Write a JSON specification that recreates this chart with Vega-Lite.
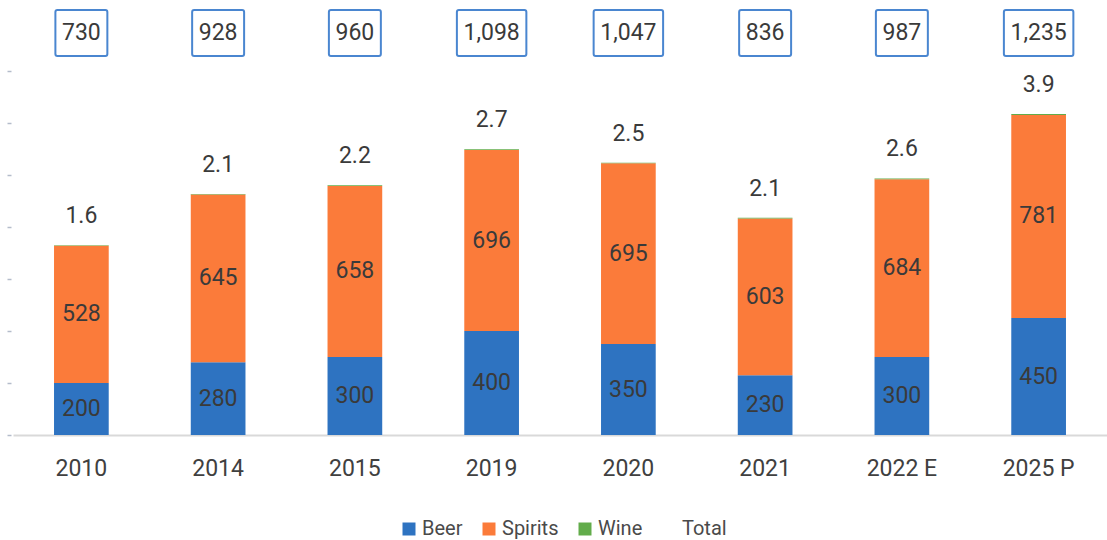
{
  "$schema": "https://vega.github.io/schema/vega-lite/v6.json",
  "width": 1094,
  "height": 429,
  "autosize": {"type": "none"},
  "padding": {"left": 13, "top": 6, "right": 0, "bottom": 105},
  "background": "white",
  "config": {
    "font": "Roboto",
    "view": {"stroke": null},
    "text": {"font": "Roboto"}
  },
  "datasets": {
    "segments": [
      {"year": "2010", "type": "Beer", "value": 200},
      {"year": "2010", "type": "Spirits", "value": 528},
      {"year": "2010", "type": "Wine", "value": 1.6},
      {"year": "2014", "type": "Beer", "value": 280},
      {"year": "2014", "type": "Spirits", "value": 645},
      {"year": "2014", "type": "Wine", "value": 2.1},
      {"year": "2015", "type": "Beer", "value": 300},
      {"year": "2015", "type": "Spirits", "value": 658},
      {"year": "2015", "type": "Wine", "value": 2.2},
      {"year": "2019", "type": "Beer", "value": 400},
      {"year": "2019", "type": "Spirits", "value": 696},
      {"year": "2019", "type": "Wine", "value": 2.7},
      {"year": "2020", "type": "Beer", "value": 350},
      {"year": "2020", "type": "Spirits", "value": 695},
      {"year": "2020", "type": "Wine", "value": 2.5},
      {"year": "2021", "type": "Beer", "value": 230},
      {"year": "2021", "type": "Spirits", "value": 603},
      {"year": "2021", "type": "Wine", "value": 2.1},
      {"year": "2022 E", "type": "Beer", "value": 300},
      {"year": "2022 E", "type": "Spirits", "value": 684},
      {"year": "2022 E", "type": "Wine", "value": 2.6},
      {"year": "2025 P", "type": "Beer", "value": 450},
      {"year": "2025 P", "type": "Spirits", "value": 781},
      {"year": "2025 P", "type": "Wine", "value": 3.9}
    ],
    "totals": [
      {"year": "2010", "total": 730},
      {"year": "2014", "total": 928},
      {"year": "2015", "total": 960},
      {"year": "2019", "total": 1098},
      {"year": "2020", "total": 1047},
      {"year": "2021", "total": 836},
      {"year": "2022 E", "total": 987},
      {"year": "2025 P", "total": 1235}
    ]
  },
  "encoding": {
    "x": {
      "field": "year",
      "type": "nominal",
      "sort": null,
      "scale": {
        "domain": ["2010", "2014", "2015", "2019", "2020", "2021", "2022 E", "2025 P"],
        "paddingInner": 0.6,
        "paddingOuter": 0.3
      },
      "axis": {
        "title": null,
        "labelAngle": 0,
        "labelFontSize": 23,
        "labelColor": "#404040",
        "labelPadding": 22,
        "ticks": false,
        "domainColor": "#d9d9d9",
        "domainWidth": 2
      }
    }
  },
  "layer": [
    {
      "data": {"name": "segments"},
      "transform": [
        {"stack": "value", "groupby": ["year"], "sort": [{"field": "type", "order": "ascending"}], "as": ["v0", "v1"]}
      ],
      "layer": [
        {
          "mark": {"type": "bar"},
          "encoding": {
            "y": {
              "field": "v1",
              "type": "quantitative",
              "scale": {"domain": [0, 1650], "nice": false},
              "axis": {
                "title": null,
                "values": [0, 200, 400, 600, 800, 1000, 1200, 1400],
                "labels": false,
                "domain": false,
                "grid": false,
                "ticks": true,
                "tickSize": 4,
                "tickColor": "#b4bccb",
                "tickWidth": 1.5,
                "offset": 2
              }
            },
            "y2": {"field": "v0"},
            "color": {
              "field": "type",
              "type": "nominal",
              "scale": {
                "domain": ["Beer", "Spirits", "Wine", "Total"],
                "range": ["#2E73C1", "#FB7B3A", "#62AC4B", "#FFFFFF"]
              },
              "legend": {
                "title": null,
                "orient": "none",
                "direction": "horizontal",
                "legendX": 386,
                "legendY": 513,
                "symbolType": "square",
                "symbolSize": 169,
                "symbolStrokeWidth": 0,
                "symbolOpacity": 1,
                "labelFontSize": 20,
                "labelColor": "#4a4a4a",
                "labelOffset": 3,
                "columnPadding": 16
              }
            }
          }
        },
        {
          "transform": [
            {"filter": "datum.type != 'Wine'"},
            {"fold": ["v0", "v1"], "as": ["edge", "pos"]}
          ],
          "mark": {"type": "text", "fontSize": 23, "color": "#3a3a3a", "baseline": "middle"},
          "encoding": {
            "y": {"aggregate": "mean", "field": "pos", "type": "quantitative"},
            "detail": {"field": "type"},
            "text": {"aggregate": "max", "field": "value", "type": "quantitative", "format": "d"}
          }
        },
        {
          "transform": [{"filter": "datum.type == 'Wine'"}],
          "mark": {"type": "text", "fontSize": 23, "color": "#3a3a3a", "baseline": "alphabetic", "dy": -22},
          "encoding": {
            "y": {"field": "v1", "type": "quantitative"},
            "text": {"field": "value", "type": "quantitative", "format": ".1f"}
          }
        }
      ]
    },
    {
      "data": {"name": "totals"},
      "layer": [
        {
          "transform": [{"filter": "datum.total < 1000"}],
          "mark": {"type": "bar", "fill": "white", "stroke": "#4A86D0", "strokeWidth": 2, "cornerRadius": 2, "width": {"band": 0.95}},
          "encoding": {
            "y": {"datum": 1458, "type": "quantitative"},
            "y2": {"datum": 1635}
          }
        },
        {
          "transform": [{"filter": "datum.total >= 1000"}],
          "mark": {"type": "bar", "fill": "white", "stroke": "#4A86D0", "strokeWidth": 2, "cornerRadius": 2, "width": {"band": 1.27}},
          "encoding": {
            "y": {"datum": 1458, "type": "quantitative"},
            "y2": {"datum": 1635}
          }
        },
        {
          "mark": {"type": "text", "fontSize": 23, "color": "#3a3a3a", "baseline": "middle"},
          "encoding": {
            "y": {"datum": 1546, "type": "quantitative"},
            "text": {"field": "total", "type": "quantitative", "format": ","}
          }
        }
      ]
    }
  ]
}
